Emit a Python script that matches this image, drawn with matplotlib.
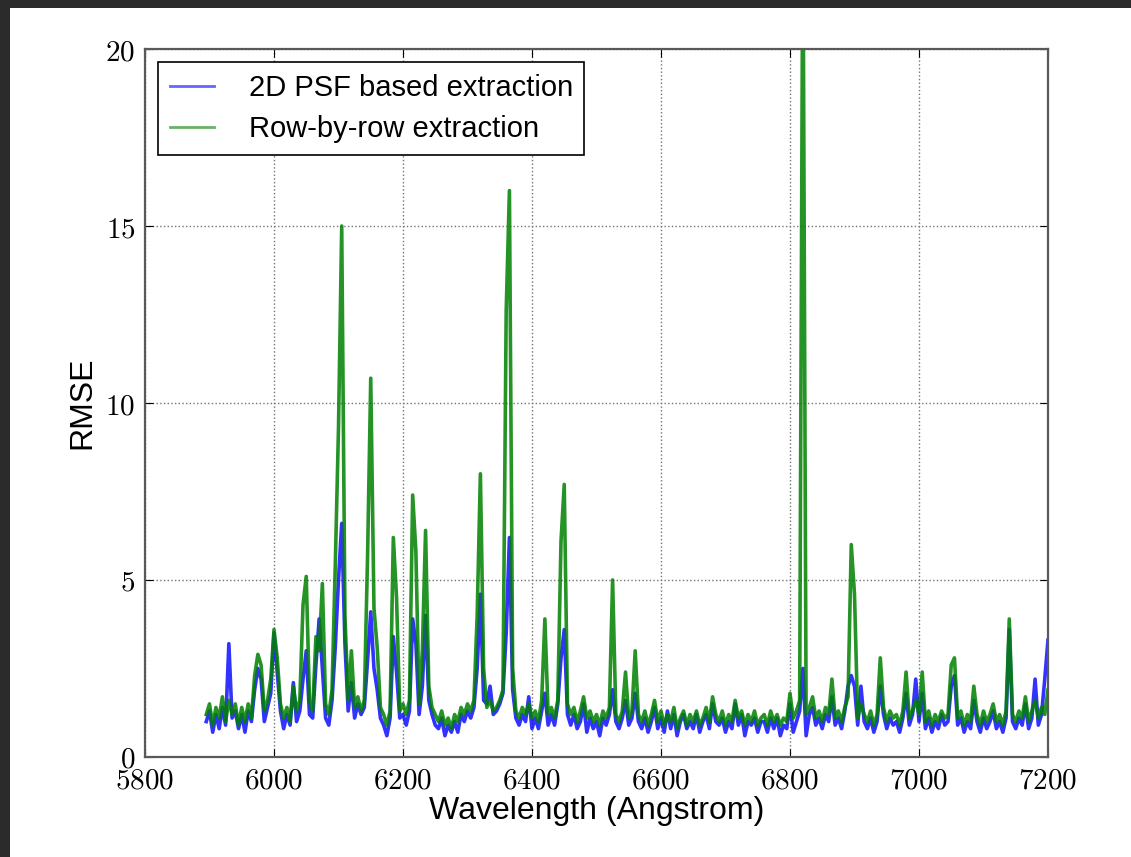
import numpy as np
import matplotlib
matplotlib.use("Agg")
import matplotlib.pyplot as plt
from matplotlib.patches import Rectangle
from matplotlib.ticker import FuncFormatter

# wavelength grid (Angstrom), 5 A steps
wave = np.arange(5895, 7205, 5)

# 2D PSF based extraction (blue)
rmse_psf = [
    1.0, 1.3, 0.7, 1.2, 0.8, 1.4, 0.9, 3.2, 1.1, 1.3,
    0.8, 1.2, 0.7, 1.3, 1.0, 1.9, 2.5, 2.2, 1.0, 1.4,
    1.8, 3.5, 2.4, 1.3, 0.8, 1.2, 0.9, 2.1, 1.0, 1.3,
    2.2, 3.0, 1.2, 1.1, 2.6, 3.9, 2.5, 1.1, 0.9, 1.6,
    3.1, 5.0, 6.6, 3.2, 1.3, 2.1, 1.1, 1.5, 1.2, 1.4,
    2.7, 4.1, 2.5, 1.9, 1.1, 0.9, 0.6, 1.1, 3.4, 2.4,
    1.1, 1.2, 0.9, 1.3, 3.9, 3.2, 1.2, 2.0, 4.0, 1.6,
    1.2, 0.9, 0.8, 1.1, 0.6, 0.9, 0.7, 1.0, 0.7, 1.2,
    1.0, 1.3, 1.1, 1.4, 2.5, 4.6, 1.6, 1.5, 2.0, 1.2,
    1.3, 1.5, 1.8, 3.5, 6.2, 1.9, 1.1, 0.9, 1.2, 1.0,
    1.7, 0.8, 1.1, 0.8, 1.3, 1.8, 0.9, 1.2, 0.9, 1.5,
    2.8, 3.6, 1.2, 0.9, 1.2, 0.8, 1.0, 1.5, 0.7, 1.1,
    0.8, 1.0, 0.6, 1.1, 0.9, 1.2, 1.9, 1.0, 0.8, 1.1,
    1.6, 0.9, 1.1, 1.8, 1.0, 0.8, 1.1, 0.7, 1.0, 1.4,
    0.8, 1.1, 0.7, 1.3, 0.8, 1.2, 0.6, 1.0, 1.2, 0.8,
    1.0, 0.8, 1.2, 0.7, 1.0, 1.2, 0.8, 1.5, 1.0, 0.9,
    1.1, 0.7, 1.0, 0.8, 1.5, 0.9, 1.2, 0.6, 1.0, 0.9,
    1.1, 0.7, 1.0, 1.0, 0.7, 1.1, 0.8, 1.1, 0.6, 0.9,
    0.8, 1.5, 0.7, 1.0, 1.3, 2.5, 0.6, 1.2, 1.4, 0.9,
    1.1, 0.8, 1.2, 1.0, 1.7, 0.9, 1.1, 0.8, 1.3, 2.0,
    2.3, 2.0, 0.9, 2.0, 1.0, 0.8, 1.1, 0.7, 1.0, 2.0,
    1.2, 0.8, 1.1, 0.9, 1.0, 0.7, 1.1, 1.8, 0.9, 1.2,
    2.2, 1.0, 1.8, 0.8, 1.1, 0.7, 1.0, 0.8, 1.2, 0.9,
    1.0, 2.0, 2.3, 0.9, 1.1, 0.7, 1.0, 0.8, 1.6, 1.0,
    0.7, 1.1, 0.8, 1.0, 1.3, 0.8, 1.0, 0.7, 1.1, 3.6,
    1.0, 0.8, 1.1, 0.9, 1.5, 0.8, 1.1, 2.2, 0.9, 1.2,
    2.2, 3.3,
]

# row-by-row extraction (green)
rmse_row = [
    1.2, 1.5, 0.9, 1.4, 1.1, 1.7, 1.0, 1.6, 1.2, 1.5,
    0.9, 1.4, 1.0, 1.5, 1.1, 2.3, 2.9, 2.6, 1.3, 1.6,
    2.2, 3.6, 2.8, 1.5, 1.1, 1.4, 1.0, 2.0, 1.3, 1.6,
    4.3, 5.1, 1.6, 1.3, 3.4, 3.0, 4.9, 1.5, 1.2, 1.9,
    5.4, 9.3, 15.0, 4.0, 1.6, 3.0, 1.4, 1.7, 1.3, 1.6,
    5.6, 10.7, 4.2, 3.1, 1.4, 1.2, 0.9, 1.3, 6.2, 4.5,
    1.3, 1.5, 1.2, 1.6, 7.4, 5.8, 1.5, 3.0, 6.4, 2.0,
    1.4, 1.2, 1.0, 1.3, 0.9, 1.1, 0.8, 1.2, 1.0, 1.4,
    1.2, 1.5, 1.3, 1.6, 4.0, 8.0, 2.5, 1.4, 1.6, 1.3,
    1.4, 1.6, 1.9, 12.6, 16.0, 2.5, 1.3, 1.1, 1.4, 1.2,
    1.5, 1.1, 1.3, 1.0, 1.6, 3.9, 1.2, 1.4, 1.1, 1.6,
    6.1, 7.7, 1.5, 1.2, 1.4, 1.0, 1.3, 1.7, 1.1, 1.3,
    1.0, 1.2, 0.9, 1.3, 1.1, 1.4, 5.0, 1.2, 1.0, 1.3,
    2.4, 1.1, 1.3, 3.0, 1.2, 1.0, 1.3, 0.9, 1.2, 1.6,
    1.0, 1.3, 0.9, 1.2, 1.0, 1.4, 0.8, 1.1, 1.3, 0.9,
    1.2, 1.0, 1.3, 0.9, 1.1, 1.4, 1.0, 1.7, 1.2, 1.0,
    1.3, 0.9, 1.2, 1.0, 1.6, 1.1, 1.3, 0.9, 1.2, 1.0,
    1.3, 0.9, 1.1, 1.2, 0.9, 1.3, 1.0, 1.2, 0.9, 1.1,
    1.0, 1.8, 1.1, 1.3, 1.6, 24.0, 1.2, 1.4, 1.7, 1.1,
    1.3, 1.0, 1.4, 1.2, 2.2, 1.1, 1.3, 1.0, 1.4, 1.7,
    6.0, 4.6, 1.1, 1.5, 1.2, 1.0, 1.3, 0.9, 1.2, 2.8,
    1.4, 1.0, 1.3, 1.1, 1.2, 0.9, 1.3, 2.4, 1.1, 1.3,
    1.6, 1.2, 2.4, 1.0, 1.3, 0.9, 1.2, 1.0, 1.3, 1.1,
    1.2, 2.6, 2.8, 1.1, 1.3, 0.9, 1.2, 1.0, 2.0, 1.2,
    0.9, 1.3, 1.0, 1.2, 1.5, 1.0, 1.2, 0.9, 1.3, 3.9,
    1.2, 1.0, 1.3, 1.1, 1.7, 1.0, 1.3, 1.6, 1.1, 1.4,
    1.2, 1.9,
]

xticks = [5800, 6000, 6200, 6400, 6600, 6800, 7000, 7200]
yticks = [0, 5, 10, 15, 20]

plt.rcParams['mathtext.fontset'] = 'cm'

fig = plt.figure(figsize=(11.31, 8.57), dpi=100, facecolor='#2b2b2b')
# white page inside the dark frame
fig.patches.append(Rectangle((10 / 1131, 0), 1, 849 / 857, transform=fig.transFigure,
                             facecolor='white', edgecolor='none', zorder=-10))
ax = fig.add_axes([0.1282, 0.1167, 0.7984, 0.8261])

ax.plot(wave, rmse_psf, color='b', lw=2.6, alpha=0.8, label='2D PSF based extraction')
ax.plot(wave, rmse_row, color='g', lw=2.6, alpha=0.85, label='Row-by-row extraction')

ax.set_xlim(5800, 7200)
ax.set_ylim(0, 20)
ax.set_xticks(xticks)
ax.set_yticks(yticks)
fmt = FuncFormatter(lambda v, p: r'$%d$' % v)
ax.xaxis.set_major_formatter(fmt)
ax.yaxis.set_major_formatter(fmt)
ax.tick_params(direction='in', top=True, right=True, length=6, width=0.8,
               labelsize=21, pad=7)
ax.grid(True, color='0.45', linestyle=':', linewidth=1.0)
for s in ax.spines.values():
    s.set_color('0.35')
    s.set_linewidth(1.6)

ax.set_xlabel('Wavelength (Angstrom)', family='Liberation Sans', fontsize=23, labelpad=1)
ax.set_ylabel('RMSE', family='Liberation Sans', fontsize=23, labelpad=6)

leg = ax.legend(loc='upper left', prop={'family': 'Liberation Sans', 'size': 21},
                fancybox=False, framealpha=1, edgecolor='black', handlelength=1.5,
                handletextpad=1.2, borderaxespad=0.45, labelspacing=0.45)
leg.get_frame().set_linewidth(1.2)
for h in leg.get_lines():
    h.set_linewidth(2.0)
    h.set_alpha(0.6)

fig.savefig('out.png', dpi=100, facecolor=fig.get_facecolor())
